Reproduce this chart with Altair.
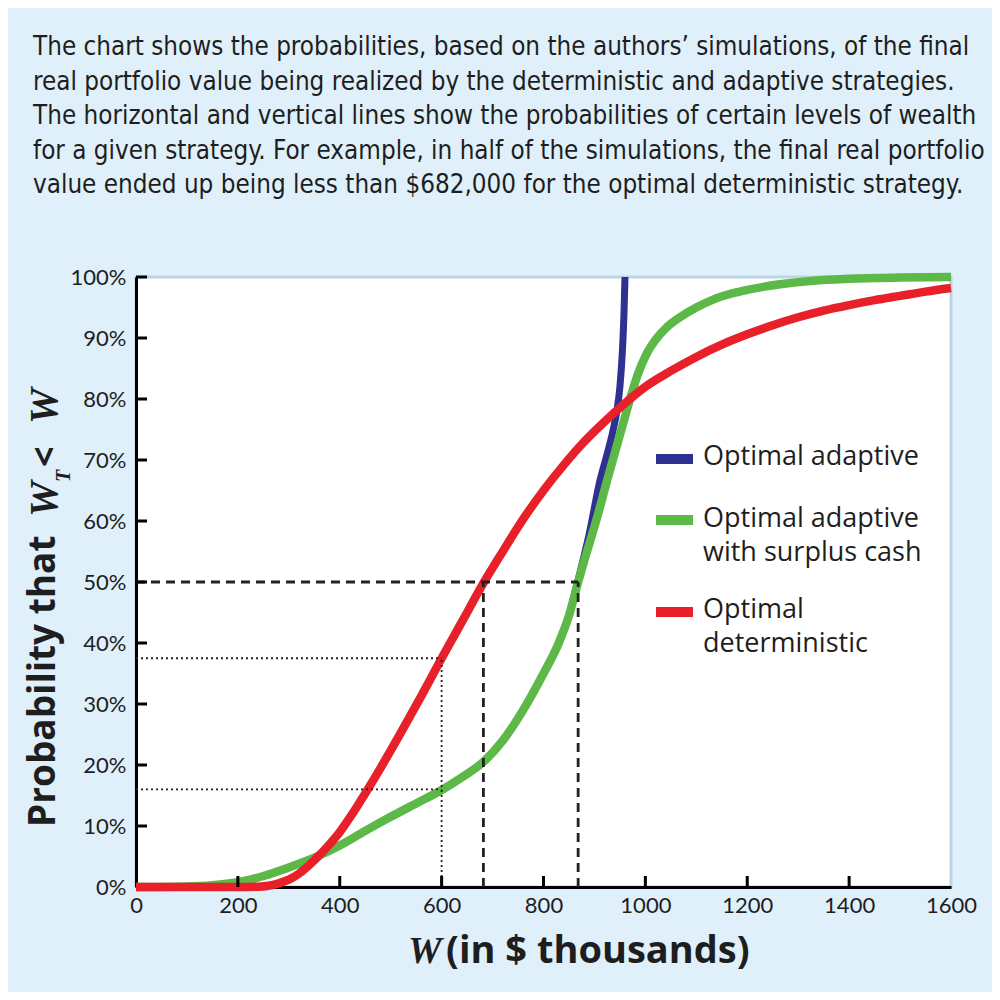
import altair as alt
import pandas as pd

# ---------------- data ----------------
RED_W = [0, 200, 240, 260, 280, 300, 320, 340, 360, 380, 400, 420, 440, 480, 520, 560, 600,
         640, 682, 720, 760, 800, 840, 880, 920, 960, 1000, 1050, 1100, 1150, 1200, 1250,
         1300, 1350, 1400, 1450, 1500, 1550, 1600]
RED_P = [0, 0, 0.05, 0.2, 0.6, 1.2, 2.2, 3.6, 5.2, 7.0, 9.0, 11.4, 14.0, 19.5, 25.3, 31.3, 37.5,
         43.5, 49.8, 55, 60.3, 65, 69.2, 73, 76.3, 79.3, 82, 84.6, 86.9, 88.9, 90.6, 92.1,
         93.4, 94.5, 95.4, 96.2, 96.9, 97.6, 98.2]

GREEN_W = [0, 100, 150, 200, 250, 300, 350, 400, 450, 500, 550, 600, 640, 682, 720, 760, 800,
           830, 850, 868, 880, 905, 925, 953, 970, 985, 1000, 1020, 1040, 1068, 1100, 1133,
           1170, 1200, 1264, 1330, 1400, 1500, 1600]
GREEN_P = [0, 0.1, 0.3, 0.8, 1.8, 3.2, 4.8, 6.8, 9.2, 11.5, 13.7, 15.9, 18, 20.5, 24, 29, 35,
           40, 44.5, 50, 53.5, 60.5, 66.7, 75, 80, 84, 87, 89.7, 91.6, 93.4, 95, 96.3,
           97.3, 97.9, 98.8, 99.4, 99.7, 99.9, 100]

BLUE_W = [0, 100, 150, 200, 250, 300, 350, 400, 450, 500, 550, 600, 640, 682, 720, 760, 800,
          830, 850, 870, 890, 911, 925, 937, 944, 950, 955, 958, 960]
BLUE_P = [0, 0.1, 0.3, 0.8, 1.8, 3.2, 4.8, 6.8, 9.2, 11.5, 13.7, 15.9, 18, 20.5, 24, 29, 35,
          40, 44.5, 51, 58, 66.7, 71, 75, 78, 82, 88, 94, 100]

SERIES = ["Optimal adaptive", "Optimal adaptive with surplus cash", "Optimal deterministic"]

DASH_LEVEL = 50
DASH_W = [682, 868]
DOT_W = 600
DOT_LEVELS = [37.5, 16]

X_TICKS = [0, 200, 400, 600, 800, 1000, 1200, 1400, 1600]
Y_TICKS = [0, 10, 20, 30, 40, 50, 60, 70, 80, 90, 100]

DESC_LINES = [
    "The chart shows the probabilities, based on the authors\u2019 simulations, of the final",
    "real portfolio value being realized by the deterministic and adaptive strategies.",
    "The horizontal and vertical lines show the probabilities of certain levels of wealth",
    "for a given strategy. For example, in half of the simulations, the final real portfolio",
    "value ended up being less than $682,000 for the optimal deterministic strategy.",
]

LEG_LINES = [["Optimal adaptive"], ["Optimal adaptive", "with surplus cash"],
             ["Optimal", "deterministic"]]

# ---------------- styling ----------------
W_PX, H_PX = 815, 610
BLUE, GREEN, RED = "#2e3192", "#5cb947", "#e8202a"
INK = "#1e1e1e"
SANS = "Lato"
BOLD = "Open Sans"
LEG = "Open Sans"
SERIF = "Liberation Serif"
DESC_FONT = "DejaVu Sans Condensed, Noto Sans Condensed, Roboto Condensed, Arial Narrow, Liberation Sans"

x_scale = alt.Scale(domain=[0, 1600], nice=False, zero=False)
y_scale = alt.Scale(domain=[0, 1], nice=False)

x_axis = alt.Axis(values=X_TICKS, format="d", title=None, ticks=False, grid=False,
                  domainColor="black", domainWidth=3, labelFont=SANS, labelFontSize=22,
                  labelColor=INK, labelPadding=8, labelFlush=False)
y_axis = alt.Axis(values=[v / 100 for v in Y_TICKS], format=".0%", title=None, ticks=False,
                  grid=False, domainColor="black", domainWidth=3, labelFont=SANS,
                  labelFontSize=22, labelColor=INK, labelPadding=10, labelFlush=False)

X = alt.X("W:Q", scale=x_scale, axis=x_axis)
Y = alt.Y("P:Q", scale=y_scale, axis=y_axis)


def series_df(ws, ps, name):
    return pd.DataFrame({"W": ws, "P": [p / 100 for p in ps], "series": name})


blue_df = series_df(BLUE_W, BLUE_P, SERIES[0])
green_df = series_df(GREEN_W, GREEN_P, SERIES[1])
red_df = series_df(RED_W, RED_P, SERIES[2])

blue_line = alt.Chart(blue_df).mark_line(color=BLUE, strokeWidth=7, interpolate="monotone",
                                         strokeCap="butt").encode(x=X, y=Y)
green_line = alt.Chart(green_df).mark_line(color=GREEN, strokeWidth=8.5, interpolate="monotone",
                                           strokeCap="butt").encode(x=X, y=Y)
red_line = alt.Chart(red_df).mark_line(color=RED, strokeWidth=8.5, interpolate="monotone",
                                       strokeCap="butt").encode(x=X, y=Y)

# reference lines
dash_h = pd.DataFrame({"W": [0], "W2": [max(DASH_W)], "P": [DASH_LEVEL / 100]})
dash_v = pd.DataFrame({"W": DASH_W, "P": [0] * len(DASH_W), "P2": [DASH_LEVEL / 100] * len(DASH_W)})
dot_h = pd.DataFrame({"W": [0] * len(DOT_LEVELS), "W2": [DOT_W] * len(DOT_LEVELS),
                      "P": [v / 100 for v in DOT_LEVELS]})
dot_v = pd.DataFrame({"W": [DOT_W], "P": [0], "P2": [max(DOT_LEVELS) / 100]})

dash_style = dict(color="#222222", strokeWidth=2.8, strokeDash=[9, 6])
dot_style = dict(color="#222222", strokeWidth=1.8, strokeDash=[2, 3])

dash_h_l = alt.Chart(dash_h).mark_rule(**dash_style).encode(x=X, x2="W2:Q", y=Y)
dash_v_l = alt.Chart(dash_v).mark_rule(**dash_style).encode(x=X, y=Y, y2="P2:Q")
dot_h_l = alt.Chart(dot_h).mark_rule(**dot_style).encode(x=X, x2="W2:Q", y=Y)
dot_v_l = alt.Chart(dot_v).mark_rule(**dot_style).encode(x=X, y=Y, y2="P2:Q")

# inward ticks
xt = pd.DataFrame({"W": X_TICKS[1:-1]})
yt = pd.DataFrame({"P": [v / 100 for v in Y_TICKS[1:]]})
x_ticks = alt.Chart(xt).mark_rule(color="black", strokeWidth=3).encode(
    x=X, y=alt.value(H_PX), y2=alt.value(H_PX - 11))
y_ticks = alt.Chart(yt).mark_rule(color="black", strokeWidth=3).encode(
    y=Y, x=alt.value(0), x2=alt.value(11))

one = pd.DataFrame({"a": [0]})

# description text (one text mark per line)
desc = [
    alt.Chart(one).mark_text(text=line, align="left", baseline="alphabetic", font=DESC_FONT,
                             fontSize=25.8, color=INK).encode(
        x=alt.value(-103), y=alt.value(-222 + 34.5 * i))
    for i, line in enumerate(DESC_LINES)
]

# y title pieces (rotated)
ytitle = [
    alt.Chart(one).mark_text(text="Probability that", angle=270, align="left",
                             baseline="alphabetic", font=BOLD, fontWeight="bold",
                             fontSize=37, color=INK).encode(x=alt.value(-81), y=alt.value(550)),
    alt.Chart(one).mark_text(text="W", angle=270, align="left", baseline="alphabetic",
                             font=SERIF, fontWeight="bold", fontStyle="italic", fontSize=40,
                             color=INK).encode(x=alt.value(-79), y=alt.value(240)),
    alt.Chart(one).mark_text(text="T", angle=270, align="left", baseline="alphabetic",
                             font=SERIF, fontStyle="italic", fontWeight="bold", fontSize=20,
                             color=INK).encode(x=alt.value(-66), y=alt.value(205)),
    alt.Chart(one).mark_text(text="<", angle=270, align="left", baseline="alphabetic",
                             font=BOLD, fontWeight="bold", fontSize=36,
                             color=INK).encode(x=alt.value(-79), y=alt.value(190)),
    alt.Chart(one).mark_text(text="W", angle=270, align="left", baseline="alphabetic",
                             font=SERIF, fontWeight="bold", fontStyle="italic", fontSize=40,
                             color=INK).encode(x=alt.value(-79), y=alt.value(147)),
]

# x title pieces
xtitle = [
    alt.Chart(one).mark_text(text="W", align="left", baseline="alphabetic", font=SERIF,
                             fontWeight="bold", fontStyle="italic", fontSize=38,
                             color=INK).encode(x=alt.value(272), y=alt.value(686)),
    alt.Chart(one).mark_text(text="(in $ thousands)", align="left", baseline="alphabetic",
                             font=BOLD, fontWeight="bold", fontSize=38,
                             color=INK).encode(x=alt.value(310), y=alt.value(686)),
]

# legend (swatches + one text mark per line)
LEG_COLORS = [BLUE, GREEN, RED]
LEG_SYM_Y = [182, 243, 335]
LEG_BASE_Y = [188, 250, 341]
LEG_LINE_H = 33.5
legend = []
for lines, col, sy, by in zip(LEG_LINES, LEG_COLORS, LEG_SYM_Y, LEG_BASE_Y):
    legend.append(alt.Chart(one).mark_rule(color=col, strokeWidth=10).encode(
        x=alt.value(520), x2=alt.value(557), y=alt.value(sy)))
    for j, line in enumerate(lines):
        legend.append(alt.Chart(one).mark_text(text=line, align="left", baseline="alphabetic",
                                               font=LEG, fontSize=27, color=INK).encode(
            x=alt.value(567), y=alt.value(by + LEG_LINE_H * j)))

chart = alt.layer(
    blue_line, green_line, red_line,
    dash_h_l, dash_v_l, dot_h_l, dot_v_l,
    x_ticks, y_ticks,
    *desc, *ytitle, *xtitle, *legend,
).properties(
    width=W_PX, height=H_PX,
    autosize=alt.AutoSizeParams(type="none"),
    padding={"left": 128, "top": 269, "right": 41, "bottom": 105},
    background="#dff0fa",
).configure_view(
    fill="white", stroke="#bcd5e6", strokeWidth=3,
)

chart.save("out.html", embed_options={"renderer": "svg", "actions": False})
